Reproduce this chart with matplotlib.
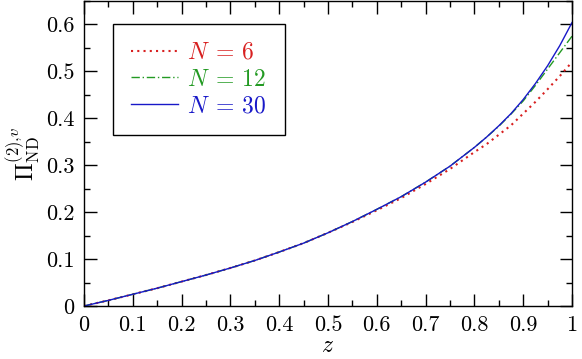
import numpy as np
from matplotlib import pyplot as plt
from matplotlib.ticker import MultipleLocator

plt.rcParams['mathtext.fontset'] = 'cm'
plt.rcParams['font.family'] = 'serif'
plt.rcParams['font.serif'] = ['cmr10']
plt.rcParams['axes.formatter.use_mathtext'] = True

# values
z_all  = [0, 0.05, 0.1, 0.15, 0.2, 0.25, 0.3, 0.35, 0.4, 0.45, 0.5, 0.55, 0.6,
          0.65, 0.7, 0.75, 0.8, 0.825, 0.85, 0.875, 0.9, 0.925, 0.95, 0.975, 1.0]
pi_n30 = [0, 0.012, 0.025, 0.038, 0.052, 0.066, 0.081, 0.097, 0.115, 0.134, 0.156, 0.180, 0.206,
          0.233, 0.264, 0.298, 0.338, 0.360, 0.384, 0.410, 0.440, 0.474, 0.512, 0.555, 0.604]
pi_n12 = [0, 0.012, 0.025, 0.038, 0.052, 0.066, 0.081, 0.097, 0.115, 0.134, 0.156, 0.180, 0.206,
          0.233, 0.264, 0.298, 0.338, 0.360, 0.383, 0.409, 0.437, 0.470, 0.505, 0.540, 0.575]
pi_n6  = [0, 0.012, 0.025, 0.038, 0.052, 0.066, 0.081, 0.097, 0.115, 0.134, 0.156, 0.179, 0.204,
          0.230, 0.260, 0.292, 0.328, 0.345, 0.365, 0.385, 0.410, 0.435, 0.462, 0.490, 0.520]
labels = [r'$N\;=\,6$', r'$N\;=\,12$', r'$N\;=\,30$']
xticklab = ['0', '0.1', '0.2', '0.3', '0.4', '0.5', '0.6', '0.7', '0.8', '0.9', '1']
yticklab = ['0', '0.1', '0.2', '0.3', '0.4', '0.5', '0.6']

fig = plt.figure(figsize=(5.82, 3.59), dpi=100)
ax = fig.add_axes([84/582, 1 - 306/359, 488/582, 305/359])

ax.plot(z_all, pi_n6, color='#d82020', ls=(0, (1, 2)), lw=1.5, label=labels[0])
ax.plot(z_all, pi_n12, color='#239a23', ls=(0, (6, 2, 1, 2)), lw=1.0, label=labels[1])
ax.plot(z_all, pi_n30, color='#1818c8', ls='-', lw=1.0, label=labels[2])

ax.set_xlim(0, 1)
ax.set_ylim(0, 0.65)
ax.xaxis.set_minor_locator(MultipleLocator(0.05))
ax.yaxis.set_minor_locator(MultipleLocator(0.05))
ax.set_xticks(np.arange(0, 1.01, 0.1))
ax.set_xticklabels(xticklab)
ax.set_yticks(np.arange(0, 0.61, 0.1))
ax.set_yticklabels(yticklab)

ax.tick_params(which='both', direction='in', top=True, right=True, labelsize=16, width=1.0)
ax.tick_params(which='major', length=9, pad=7)
ax.tick_params(which='minor', length=4.5)
for s in ax.spines.values():
    s.set_linewidth(1.0)

ax.set_xlabel('$z$', fontsize=17, labelpad=0)
ax.set_ylabel(r'$\Pi^{(2),\!v}_{\rm ND}$', fontsize=17, labelpad=2)

leg = ax.legend(loc='upper left', bbox_to_anchor=(29/488, 1 - 23/305), fontsize=17,
                fancybox=False, edgecolor='black', framealpha=1, handlelength=2.0,
                labelspacing=0.2, borderpad=0.75, handletextpad=0.4, borderaxespad=0)
leg.get_frame().set_linewidth(1.0)
for txt, line in zip(leg.get_texts(), leg.get_lines()):
    txt.set_color(line.get_color())

fig.savefig('out.png', dpi=100)
